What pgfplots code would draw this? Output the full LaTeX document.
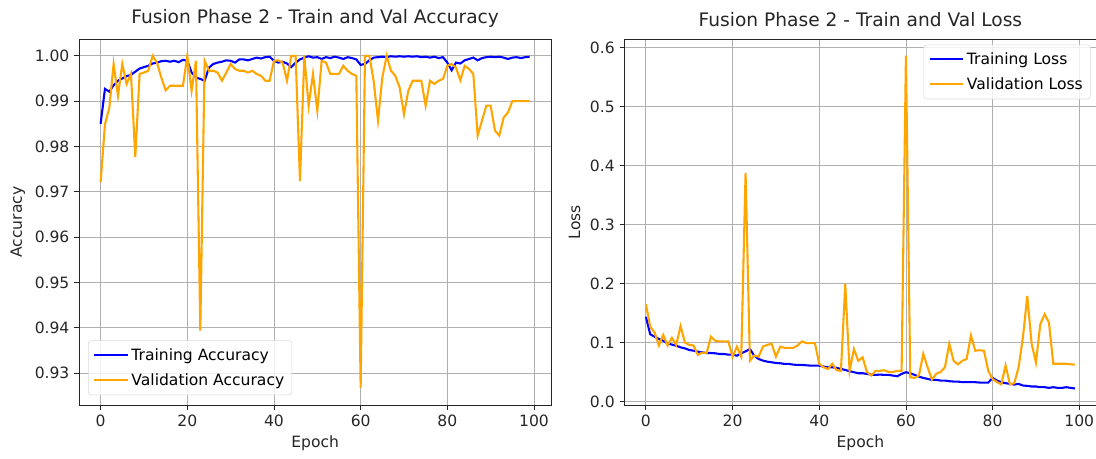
\documentclass[border=0pt]{standalone}
\usepackage{pgfplots}
\pgfplotsset{compat=1.18}
\usepackage{pgfplotstable}
\usepackage{fontspec}
\setmainfont{DejaVu Sans}

\definecolor{mplblue}{HTML}{0000FF}
\definecolor{mplorange}{HTML}{FFA500}
\definecolor{gridgray}{HTML}{B0B0B0}
\definecolor{txt}{HTML}{262626}

% epoch, train/val accuracy, train/val loss
\pgfplotstableread{
epoch tacc vacc tloss vloss
0 0.9850 0.9721 0.1437 0.165
1 0.9927 0.9849 0.1140 0.127
2 0.9921 0.9885 0.1100 0.117
3 0.9935 0.9982 0.1060 0.095
4 0.9945 0.9912 0.1030 0.113
5 0.9950 0.9982 0.0986 0.095
6 0.9955 0.9938 0.0965 0.108
7 0.9958 0.9960 0.0946 0.096
8 0.9965 0.9777 0.0918 0.128
9 0.9972 0.9960 0.0901 0.100
10 0.9975 0.9963 0.0873 0.096
11 0.9978 0.9967 0.0862 0.095
12 0.9983 1.0000 0.0845 0.079
13 0.9985 0.9985 0.0834 0.083
14 0.9988 0.9952 0.0822 0.082
15 0.9989 0.9924 0.0822 0.110
16 0.9987 0.9934 0.0817 0.103
17 0.9989 0.9934 0.0806 0.102
18 0.9986 0.9934 0.0806 0.102
19 0.9991 0.9934 0.0794 0.102
20 0.9989 1.0000 0.0794 0.076
21 0.9963 0.9923 0.0777 0.093
22 0.9952 0.9989 0.0817 0.076
23 0.9949 0.9394 0.0850 0.388
24 0.9945 0.9989 0.0890 0.069
25 0.9974 0.9967 0.0777 0.078
26 0.9982 0.9967 0.0721 0.076
27 0.9985 0.9963 0.0693 0.093
28 0.9987 0.9945 0.0676 0.096
29 0.9990 0.9963 0.0665 0.098
30 0.9989 0.9982 0.0653 0.076
31 0.9985 0.9971 0.0648 0.093
32 0.9992 0.9967 0.0637 0.091
33 0.9992 0.9967 0.0637 0.091
34 0.9990 0.9963 0.0625 0.091
35 0.9993 0.9967 0.0620 0.095
36 0.9996 0.9960 0.0620 0.102
37 0.9994 0.9956 0.0614 0.099
38 0.9997 0.9945 0.0608 0.099
39 0.9998 0.9945 0.0608 0.099
40 0.9989 0.9989 0.0608 0.064
41 0.9985 0.9990 0.0592 0.058
42 0.9987 0.9985 0.0580 0.055
43 0.9983 0.9945 0.0580 0.064
44 0.9975 1.0000 0.0569 0.053
45 0.9985 1.0000 0.0552 0.052
46 0.9992 0.9724 0.0535 0.199
47 0.9996 1.0000 0.0513 0.052
48 0.9999 0.9890 0.0496 0.089
49 0.9996 0.9960 0.0479 0.069
50 0.9997 0.9879 0.0479 0.075
51 0.9993 0.9989 0.0468 0.050
52 0.9997 0.9985 0.0456 0.044
53 0.9995 0.9960 0.0451 0.052
54 0.9998 0.9960 0.0456 0.052
55 0.9996 0.9960 0.0451 0.053
56 0.9993 0.9978 0.0451 0.050
57 0.9997 0.9967 0.0439 0.050
58 0.9995 0.9960 0.0428 0.052
59 0.9992 0.9956 0.0468 0.052
60 0.9980 0.9267 0.0496 0.587
61 0.9982 1.0000 0.0479 0.041
62 0.9990 1.0000 0.0451 0.040
63 0.9996 0.9945 0.0422 0.044
64 0.9997 0.9857 0.0400 0.081
65 0.9998 0.9952 0.0383 0.058
66 0.9997 1.0000 0.0366 0.037
67 0.9999 0.9967 0.0366 0.047
68 0.9998 0.9956 0.0355 0.050
69 0.9999 0.9930 0.0355 0.058
70 0.9998 0.9871 0.0344 0.098
71 0.9999 0.9923 0.0338 0.069
72 0.9998 0.9945 0.0338 0.063
73 0.9999 0.9945 0.0327 0.069
74 0.9997 0.9945 0.0327 0.072
75 0.9998 0.9890 0.0327 0.112
76 0.9996 0.9945 0.0327 0.086
77 0.9998 0.9938 0.0321 0.087
78 0.9995 0.9945 0.0321 0.086
79 0.9997 0.9949 0.0321 0.052
80 0.9985 0.9978 0.0400 0.038
81 0.9968 0.9982 0.0355 0.033
82 0.9985 0.9974 0.0327 0.029
83 0.9983 0.9946 0.0310 0.061
84 0.9990 0.9978 0.0299 0.029
85 0.9993 0.9971 0.0287 0.031
86 0.9996 0.9960 0.0299 0.058
87 0.9990 0.9824 0.0270 0.109
88 0.9995 0.9857 0.0265 0.179
89 0.9997 0.9890 0.0254 0.098
90 0.9998 0.9890 0.0254 0.066
91 0.9997 0.9835 0.0242 0.131
92 0.9998 0.9824 0.0242 0.148
93 0.9996 0.9864 0.0231 0.134
94 0.9993 0.9875 0.0242 0.064
95 0.9996 0.9900 0.0231 0.064
96 0.9997 0.9900 0.0231 0.064
97 0.9995 0.9900 0.0242 0.064
98 0.9997 0.9900 0.0231 0.063
99 0.9998 0.9900 0.0220 0.0625
}\hist

\pgfplotsset{
  histaxis/.style={
    scale only axis,
    width=339.8pt, height=263.5pt,
    xmin=-4.95, xmax=103.95,
    xtick={0,20,40,60,80,100},
    grid=major,
    major grid style={gridgray, line width=0.6pt},
    axis line style={black!85, line width=0.6pt},
    tick align=outside, tick pos=left,
    major tick length=3.5pt,
    tick style={black!85, line width=0.6pt},
    ticklabel style={font=\fontsize{11.2}{13}\selectfont, text=txt},
    /pgf/number format/assume math mode=true,
    label style={font=\fontsize{11.2}{13}\selectfont, text=txt},
    title style={font=\fontsize{13.4}{16}\selectfont, text=txt, yshift=-1pt},
    xlabel={Epoch},
    legend style={font=\fontsize{11.2}{13}\selectfont, draw=black!15, rounded corners=2pt,
      fill=white, fill opacity=0.8, text opacity=1, inner sep=3.5pt, row sep=4pt},
    legend cell align=left,
    legend image code/.code={\draw[#1] (0pt,0pt) -- (24pt,0pt);},
  },
  trainline/.style={mplblue, line width=1.5pt},
  valline/.style={mplorange, line width=1.5pt},
}

\begin{document}
\begin{tikzpicture}
\path[use as bounding box] (0,0) rectangle (789.12pt,329.76pt);

\begin{axis}[histaxis,
    at={(57pt,38.16pt)}, anchor=south west,
    title={Fusion Phase 2 - Train and Val Accuracy},
    ylabel={Accuracy},
    ymin=0.9230, ymax=1.0037,
    ytick={0.93,0.94,0.95,0.96,0.97,0.98,0.99,1.00},
    yticklabel style={/pgf/number format/.cd, fixed, fixed zerofill, precision=2},
    legend style={at={(0.019,0.027)}, anchor=south west},
]
\addplot[trainline] table[x=epoch, y=tacc] {\hist};
\addlegendentry{Training Accuracy}
\addplot[valline] table[x=epoch, y=vacc] {\hist};
\addlegendentry{Validation Accuracy}
\end{axis}

\begin{axis}[histaxis,
    at={(449.6pt,38.16pt)}, anchor=south west,
    title={Fusion Phase 2 - Train and Val Loss},
    ylabel={Loss},
    ymin=-0.006, ymax=0.615,
    ytick={0,0.1,0.2,0.3,0.4,0.5,0.6},
    yticklabel style={/pgf/number format/.cd, fixed, fixed zerofill, precision=1},
    legend style={at={(0.988,0.985)}, anchor=north east},
]
\addplot[trainline] table[x=epoch, y=tloss] {\hist};
\addlegendentry{Training Loss}
\addplot[valline] table[x=epoch, y=vloss] {\hist};
\addlegendentry{Validation Loss}
\end{axis}
\end{tikzpicture}
\end{document}
